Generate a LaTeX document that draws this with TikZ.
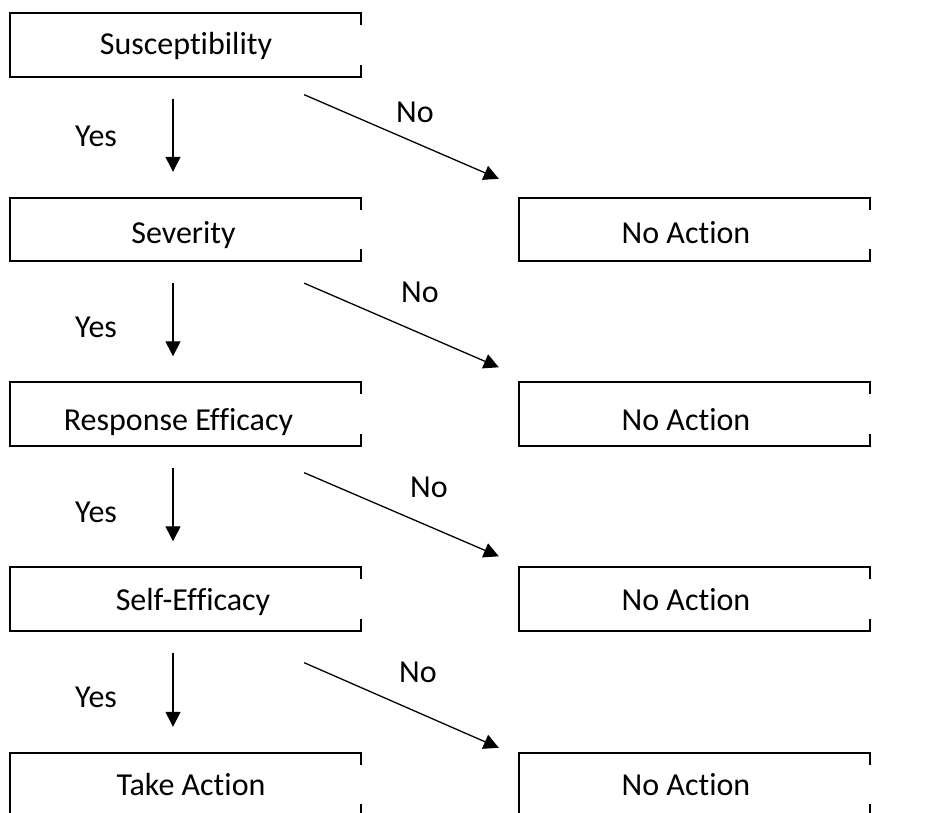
\documentclass[tikz,border=0pt]{standalone}
\usepackage{fontspec}
\setmainfont{Carlito}[Ligatures=NoCommon]
\usetikzlibrary{arrows.meta,calc,positioning}

\tikzset{
  stepbox/.style={minimum width=351pt, minimum height=63pt, inner sep=0pt, text depth=0pt, font=\fontsize{32}{38}\selectfont},
  boxline/.style={line width=1.8pt},
  flow/.style={line width=1.3pt, -{Triangle[length=15pt,width=15pt]}},
  answer/.style={anchor=base west, inner sep=0pt, font=\fontsize{32}{38}\selectfont}
}

\begin{document}
\begin{tikzpicture}[x=1pt,y=-1pt]
            \useasboundingbox (0,0) rectangle (928,813);
            \clip (0,0) rectangle (928,813);
            % Left column of questions
            \foreach \name/\txt/\y/\dx/\tb in {susc/Susceptibility/45/1/20, sev/Severity/229.5/-4/28, resp/Response Efficacy/414/-14/32, self/Self-Efficacy/599/15/22, take/Take Action/784.5/11/21} {
                \node[stepbox, text height=\tb pt] (\name) at (185.5,\y) {\hspace*{\dx pt}\txt};
            }
            
            % Right column of outcomes
            \foreach \name/\y/\tb in {no1/229.5/28, no2/414/32, no3/599/22, no4/784.5/21} {
                \node[stepbox, text height=\tb pt] (\name) at (694.5,\y) {\hspace*{-17pt}No Action};
            }
            
            % Outlines with the right side open in the middle
            \foreach \b in {susc,sev,resp,self,take,no1,no2,no3,no4} {
                \draw[boxline] ([yshift=-12pt]\b.north east) -- (\b.north east) -- (\b.north west)
                    -- (\b.south west) -- (\b.south east) -- ([yshift=12pt]\b.south east);
            }
            
            % Yes arrows down, No arrows across
            \foreach \a/\b/\n/\s/\t in {susc/sev/no1/18/19, sev/resp/no2/22/15, resp/self/no3/27/11, self/take/no4/32/5} {
                \draw[flow, shorten <=22pt, shorten >=26pt] ([xshift=-12.5pt]\a.south) -- ([xshift=-12.5pt]\b.north);
                \draw[flow] ([shift={(-57pt,-\s pt)}]\a.south east) -- ([shift={(-20pt,\t pt)}]\n.north west);
            }
            
            % Labels
            \foreach \i/\y in {1/147, 2/337, 3/522, 4/707} {
                \node[answer] (yes\i) at (75,\y) {Yes};
            }
            \foreach \i/\x/\y in {1/396/123, 2/401/302, 3/410/497, 4/399/682} {
                \node[answer] (nolab\i) at (\x,\y) {No};
            }
            
        \end{tikzpicture}
\end{document}
